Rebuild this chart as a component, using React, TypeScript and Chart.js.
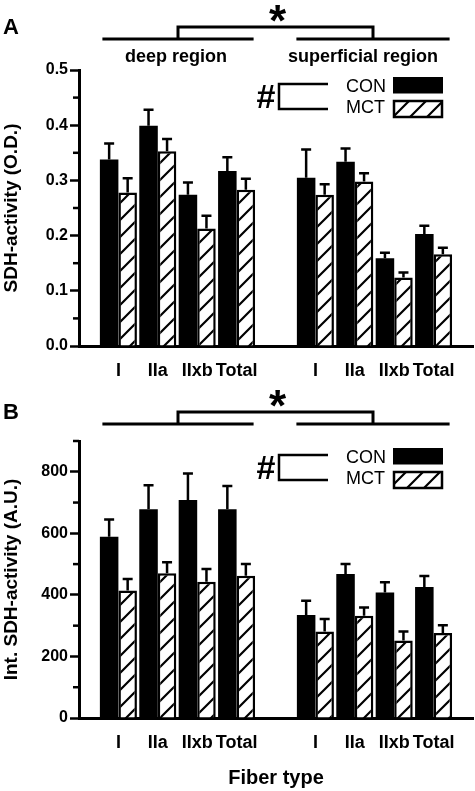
import React, { useEffect, useRef } from 'react';
import { Chart, registerables } from 'chart.js';

Chart.register(...registerables);

const FONT = '"Liberation Sans", Arial, Helvetica, sans-serif';

// categories (blank slots separate the two regions)
const fiberLabels = ['', 'I', 'IIa', 'IIxb', 'Total', '', 'I', 'IIa', 'IIxb', 'Total', ''];

// Panel A: SDH-activity (O.D.)
const conA = [null, 0.338, 0.399, 0.274, 0.317, null, 0.305, 0.334, 0.159, 0.203, null];
const conAErr = [null, 0.029, 0.029, 0.022, 0.025, null, 0.051, 0.024, 0.010, 0.015, null];
const mctA = [null, 0.278, 0.353, 0.213, 0.283, null, 0.274, 0.298, 0.124, 0.166, null];
const mctAErr = [null, 0.026, 0.022, 0.023, 0.020, null, 0.019, 0.015, 0.009, 0.012, null];
const minorTicksA = [0.05, 0.15, 0.25, 0.35, 0.45];

// Panel B: Int. SDH-activity (A.U.)
const conB = [null, 589, 678, 708, 678, null, 335, 468, 408, 426, null];
const conBErr = [null, 56, 78, 86, 76, null, 46, 32, 33, 35, null];
const mctB = [null, 414, 470, 443, 462, null, 281, 332, 252, 276, null];
const mctBErr = [null, 38, 36, 41, 38, null, 41, 27, 29, 25, null];
const minorTicksB = [100, 300, 500, 700, 900];

const regionLabels = ['deep region', 'superficial region'];
const seriesNames = ['CON', 'MCT'];

function makeHatch(ctx: CanvasRenderingContext2D) {
  const s = 17;
  const c = document.createElement('canvas');
  c.width = s;
  c.height = s;
  const g = c.getContext('2d') as CanvasRenderingContext2D;
  g.fillStyle = '#fff';
  g.fillRect(0, 0, s, s);
  g.strokeStyle = '#000';
  g.lineWidth = 2.2;
  g.beginPath();
  g.moveTo(-2, s + 2);
  g.lineTo(s + 2, -2);
  g.moveTo(-3, 3);
  g.lineTo(3, -3);
  g.moveTo(s - 3, s + 3);
  g.lineTo(s + 3, s - 3);
  g.stroke();
  return ctx.createPattern(c, 'repeat') as CanvasPattern;
}

function textCentered(ctx: CanvasRenderingContext2D, text: string, cx: number, cy: number, font: string, align: CanvasTextAlign = 'center') {
  ctx.font = font;
  ctx.textAlign = align;
  ctx.textBaseline = 'alphabetic';
  const m = ctx.measureText(text);
  const base = cy + (m.actualBoundingBoxAscent - m.actualBoundingBoxDescent) / 2;
  ctx.fillText(text, cx, base);
}

type PanelCfg = {
  letter: string;
  con: (number | null)[];
  conErr: (number | null)[];
  mct: (number | null)[];
  mctErr: (number | null)[];
  minor: number[];
  yMax: number;
  yStep: number;
  yTitle: string;
  fmt: (v: number) => string;
  height: number;
  padTop: number;
  padBottom: number;
  xAxisHeight: number;
  showRegions: boolean;
  xTitle: string | null;
};

function PanelChart({ cfg, top }: { cfg: PanelCfg; top: number }) {
  const ref = useRef<HTMLCanvasElement | null>(null);
  useEffect(() => {
    const canvas = ref.current as HTMLCanvasElement;
    const ctx0 = canvas.getContext('2d') as CanvasRenderingContext2D;
    const hatch = makeHatch(ctx0);

    const annot = {
      id: 'annot',
      afterDatasetsDraw(chart: any) {
        const { ctx, chartArea: ca, scales } = chart;
        const y = scales.y;
        ctx.save();
        ctx.strokeStyle = '#000';
        ctx.fillStyle = '#000';
        // minor ticks
        ctx.lineWidth = 2.5;
        for (const v of cfg.minor) {
          const py = y.getPixelForValue(v);
          ctx.beginPath();
          ctx.moveTo(ca.left - 6, py);
          ctx.lineTo(ca.left, py);
          ctx.stroke();
        }
        // error bars
        const sets: [(number | null)[], (number | null)[]][] = [
          [cfg.con, cfg.conErr],
          [cfg.mct, cfg.mctErr],
        ];
        sets.forEach(([vals, errs], d) => {
          const meta = chart.getDatasetMeta(d);
          meta.data.forEach((bar: any, i: number) => {
            const v = vals[i];
            const e = errs[i];
            if (v == null || e == null) return;
            const tp = y.getPixelForValue(v + e);
            ctx.lineWidth = 2.5;
            ctx.beginPath();
            ctx.moveTo(bar.x, bar.y);
            ctx.lineTo(bar.x, tp);
            ctx.moveTo(bar.x - 5, tp);
            ctx.lineTo(bar.x + 5, tp);
            ctx.stroke();
          });
        });
        ctx.restore();
      },
      afterDraw(chart: any) {
        const { ctx, chartArea: ca, scales } = chart;
        const x = scales.x;
        const T = ca.top;
        ctx.save();
        ctx.strokeStyle = '#000';
        ctx.fillStyle = '#000';
        // panel letter
        textCentered(ctx, cfg.letter, 11, 26, `bold 22px ${FONT}`);
        // region brackets
        const l1 = x.getPixelForValue(1) - 16;
        const r1 = x.getPixelForValue(4) + 17;
        const l2 = x.getPixelForValue(6) - 19;
        const r2 = x.getPixelForValue(9) + 16;
        const m1 = (l1 + r1) / 2;
        const m2 = (l2 + r2) / 2;
        ctx.lineWidth = 3;
        ctx.beginPath();
        ctx.moveTo(l1, 39);
        ctx.lineTo(r1, 39);
        ctx.moveTo(l2, 39);
        ctx.lineTo(r2, 39);
        ctx.moveTo(m1, 39);
        ctx.lineTo(m1, 27);
        ctx.lineTo(m2, 27);
        ctx.lineTo(m2, 39);
        ctx.stroke();
        textCentered(ctx, '*', (m1 + m2) / 2 + 2, 13, `bold 44px ${FONT}`);
        if (cfg.showRegions) {
          textCentered(ctx, regionLabels[0], m1 - 2, 57.5, `bold 18px ${FONT}`);
          textCentered(ctx, regionLabels[1], m2 - 10, 57.5, `bold 18px ${FONT}`);
        }
        // legend
        textCentered(ctx, '#', 266, T + 26, `bold 34px ${FONT}`);
        ctx.lineWidth = 2.5;
        ctx.beginPath();
        ctx.moveTo(328, T + 14);
        ctx.lineTo(279, T + 14);
        ctx.lineTo(279, T + 39);
        ctx.lineTo(328, T + 39);
        ctx.stroke();
        textCentered(ctx, seriesNames[0], 346, T + 15, `18px ${FONT}`, 'left');
        textCentered(ctx, seriesNames[1], 346, T + 36.5, `18px ${FONT}`, 'left');
        ctx.fillStyle = '#000';
        ctx.fillRect(393, T + 7, 50, 16.5);
        ctx.fillStyle = hatch;
        ctx.fillRect(394, T + 31, 48, 16);
        ctx.lineWidth = 2.5;
        ctx.strokeRect(394, T + 31, 48, 16);
        ctx.restore();
      },
    };

    const chart = new Chart(canvas, {
      type: 'bar',
      data: {
        labels: fiberLabels,
        datasets: [
          {
            label: seriesNames[0],
            data: cfg.con,
            backgroundColor: '#000',
            borderWidth: 0,
            categoryPercentage: 0.94,
            barPercentage: 1,
          },
          {
            label: seriesNames[1],
            data: cfg.mct,
            backgroundColor: hatch,
            borderColor: '#000',
            borderWidth: 2.5,
            categoryPercentage: 0.94,
            barPercentage: 1,
          },
        ],
      } as any,
      options: {
        animation: false,
        responsive: false,
        maintainAspectRatio: false,
        layout: { padding: { top: cfg.padTop, bottom: cfg.padBottom, left: 0, right: 2 } },
        plugins: { legend: { display: false }, tooltip: { enabled: false } },
        scales: {
          x: {
            type: 'category',
            offset: false,
            border: { display: true, width: 3, color: '#000' },
            grid: { display: false, drawTicks: true, tickLength: 14 },
            ticks: {
              autoSkip: false,
              maxRotation: 0,
              minRotation: 0,
              color: '#000',
              padding: 0,
              font: { family: FONT, size: 18, weight: 'bold' },
            },
            title: cfg.xTitle
              ? {
                  display: true,
                  text: cfg.xTitle,
                  color: '#000',
                  padding: 0,
                  font: { family: FONT, size: 20, weight: 'bold' },
                }
              : { display: false },
            afterFit: (s: any) => {
              s.height = cfg.xAxisHeight;
            },
          },
          y: {
            min: 0,
            max: cfg.yMax,
            border: { display: true, width: 3, color: '#000' },
            grid: {
              display: true,
              drawOnChartArea: false,
              drawTicks: true,
              tickLength: 9,
              tickWidth: 2.5,
              color: '#000',
              tickColor: '#000',
            },
            ticks: {
              stepSize: cfg.yStep,
              includeBounds: false,
              color: '#000',
              padding: 2,
              font: { family: FONT, size: 16, weight: 'bold' },
              callback: (v: any) => cfg.fmt(Number(v)),
            },
            title: {
              display: true,
              text: cfg.yTitle,
              color: '#000',
              padding: 0,
              font: { family: FONT, size: 19, weight: 'bold' },
            },
            afterFit: (s: any) => {
              s.width = 79;
            },
          },
        },
      } as any,
      plugins: [annot as any],
    });
    return () => chart.destroy();
  }, [cfg]);

  return (
    <canvas
      ref={ref}
      width={475}
      height={cfg.height}
      style={{ position: 'absolute', left: 0, top, display: 'block', width: 475, height: cfg.height }}
    />
  );
}

const panelA: PanelCfg = {
  letter: 'A',
  con: conA,
  conErr: conAErr,
  mct: mctA,
  mctErr: mctAErr,
  minor: minorTicksA,
  yMax: 0.5,
  yStep: 0.1,
  yTitle: 'SDH-activity (O.D.)',
  fmt: (v) => v.toFixed(1),
  height: 385,
  padTop: 70,
  padBottom: 9,
  xAxisHeight: 30,
  showRegions: true,
  xTitle: null,
};

const panelB: PanelCfg = {
  letter: 'B',
  con: conB,
  conErr: conBErr,
  mct: mctB,
  mctErr: mctBErr,
  minor: minorTicksB,
  yMax: 900,
  yStep: 200,
  yTitle: 'Int. SDH-activity (A.U.)',
  fmt: (v) => String(Math.round(v)),
  height: 406,
  padTop: 56,
  padBottom: 1,
  xAxisHeight: 72,
  showRegions: false,
  xTitle: 'Fiber type',
};

export default function App() {
  return (
    <div style={{ position: 'absolute', left: 0, top: 0, width: 475, height: 791, background: '#fff' }}>
      <PanelChart cfg={panelA} top={0} />
      <PanelChart cfg={panelB} top={385} />
    </div>
  );
}
